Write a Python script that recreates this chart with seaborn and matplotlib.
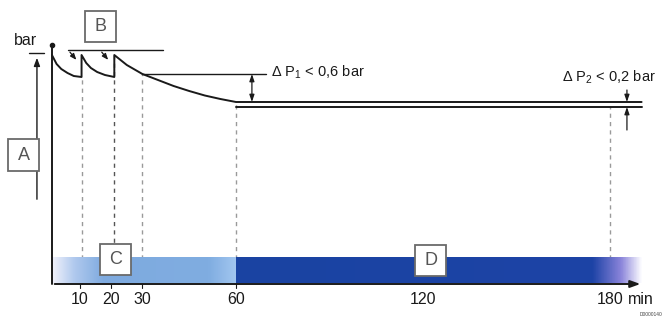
import matplotlib.pyplot as plt
import matplotlib.colors as mcolors
import numpy as np
import seaborn as sns

# Druckverlauf (Zeit in min, Druck in Zeichnungseinheiten)
zeit = [1, 2.5, 4, 6, 8, 10.5, 10.5, 12, 13.5, 15.5, 18, 21,
        21, 25, 30, 35, 40, 45, 50, 55, 60, 190]
druck = [22.9, 22.0, 21.5, 21.1, 20.8, 20.7, 22.9, 22.1, 21.6, 21.2, 20.9, 20.7,
         22.9, 21.9, 21.0, 20.4, 19.8, 19.3, 18.85, 18.5, 18.2, 18.2]
druck_unten = 17.7          # zweite Linie der Doppellinie
druck_ref1 = 21.0           # Bezugslinie fuer Delta P1

# Hilfslinien (gestrichelt) und ihre Startwerte
marken_t = [10.5, 21, 30, 60, 180]
marken_p = [20.7, 22.9, 21.0, 18.2, 17.7]

tick_pos = [10, 20, 30, 60, 120, 180]
tick_txt = ['10', '20', '30', '60', '120', '180']

boxen = {'A': (-13.1, 11.3), 'B': (11.6, 24.2), 'C': (16.4, 0.9), 'D': (117.4, 0.8)}

sns.set_theme(style='white')
plt.rcParams['font.family'] = ['Liberation Sans', 'DejaVu Sans']
plt.rcParams['mathtext.fontset'] = 'custom'
plt.rcParams['mathtext.rm'] = 'Liberation Sans'
plt.rcParams['mathtext.it'] = 'Liberation Sans'

fig = plt.figure(figsize=(6.65, 3.22), dpi=100)
ax = fig.add_axes([0, 0, 1, 1])
ax.set_xlim(-15.64, 197.5)
ax.set_ylim(-3.8, 28.4)
ax.axis('off')

schwarz = '#1a1a1a'

# Farbbalken (C hell, D dunkel)
hell = mcolors.LinearSegmentedColormap.from_list('hell', [
    (0.0, '#f2f2fb'), (0.12, '#b0c9ee'), (0.28, '#7eaadf'),
    (0.85, '#80ade1'), (1.0, '#a3c7f0')])
dunkel = mcolors.LinearSegmentedColormap.from_list('dunkel', [
    (0.0, '#1a44a2'), (0.88, '#1d43a6'), (0.95, '#8a84da'), (1.0, '#fbfbff')])
verlauf = np.linspace(0, 1, 256).reshape(1, -1)
ax.imshow(verlauf, cmap=hell, extent=[1, 60, 0.05, 2.6], aspect='auto', zorder=2)
ax.imshow(verlauf, cmap=dunkel, extent=[60, 190, 0.05, 2.6], aspect='auto', zorder=2)

# gestrichelte Hilfslinien
for t, p in zip(marken_t, marken_p):
    farbe = '#555555' if t == 21 else '#9a9a9a'
    ax.vlines(t, 0, p, colors=farbe, linestyles=(0, (3, 3)), lw=1, zorder=1)

# Druckkurve
sns.lineplot(x=zeit, y=druck, sort=False, estimator=None, color=schwarz,
             lw=1.4, ax=ax, zorder=4)
ax.plot([60, 190], [druck_unten] * 2, color=schwarz, lw=1.4, zorder=4)

# Achsen
ax.annotate('', xy=(190.5, 0), xytext=(1, 0),
            arrowprops=dict(arrowstyle='-|>,head_length=0.5,head_width=0.18',
                            color=schwarz, lw=1.4), zorder=5)
ax.plot([1, 1], [0, 23.9], color=schwarz, lw=1.4, zorder=5)
ax.plot(1, 23.9, marker='o', ms=3, color=schwarz, zorder=5)
for t in tick_pos[:4]:
    ax.plot([t, t], [0, -0.4], color=schwarz, lw=0.8, zorder=5)
for t, s in zip(tick_pos, tick_txt):
    ax.text(t, -1.5, s, ha='center', va='center', fontsize=11.5, color=schwarz)
ax.text(185.6, -1.5, 'min', ha='left', va='center', fontsize=11.5, color=schwarz)

# linker Pfeil mit "bar"
ax.annotate('', xy=(-3.8, 22.9), xytext=(-3.8, 8.2),
            arrowprops=dict(arrowstyle='-|>,head_length=0.4,head_width=0.15',
                            color=schwarz, lw=1.0), zorder=3)
ax.plot([-6.2, -1.4], [23.1, 23.1], color=schwarz, lw=1.0)
ax.text(-7.6, 24.3, 'bar', ha='center', va='center', fontsize=11.5, color=schwarz)

# B: Nachpumpen
ax.plot([6.2, 36.6], [23.4, 23.4], color=schwarz, lw=1.0)
for t0 in [6.2, 16.4]:
    ax.annotate('', xy=(t0 + 3.2, 22.2), xytext=(t0, 23.4),
                arrowprops=dict(arrowstyle='-|>,head_length=0.3,head_width=0.12',
                                color=schwarz, lw=0.9))

# Delta P1
ax.plot([30, 69.5], [druck_ref1] * 2, color=schwarz, lw=1.0)
ax.annotate('', xy=(65.1, 18.2), xytext=(65.1, druck_ref1),
            arrowprops=dict(arrowstyle='<|-|>,head_length=0.35,head_width=0.12',
                            color=schwarz, lw=0.9, shrinkA=0, shrinkB=0))
ax.text(71.2, 21.2, 'Δ P$_{1}$ < 0,6 bar', ha='left', va='center', fontsize=10.5,
        color=schwarz)

# Delta P2
ax.annotate('', xy=(185.3, 18.2), xytext=(185.3, 19.4),
            arrowprops=dict(arrowstyle='-|>,head_length=0.35,head_width=0.12',
                            color=schwarz, lw=0.9, shrinkA=0, shrinkB=0))
ax.annotate('', xy=(185.3, druck_unten), xytext=(185.3, 15.4),
            arrowprops=dict(arrowstyle='-|>,head_length=0.35,head_width=0.12',
                            color=schwarz, lw=0.9, shrinkA=0, shrinkB=0))
ax.text(194.6, 20.7, 'Δ P$_{2}$ < 0,2 bar', ha='right', va='center', fontsize=10.5,
        color=schwarz)

# Kennbuchstaben in Kaestchen
for name, (x0, y0) in boxen.items():
    ax.add_patch(plt.Rectangle((x0, y0), 10.0, 3.15, facecolor='white',
                               edgecolor='#6a6a6a', lw=1.3, zorder=6))
    ax.text(x0 + 5.0, y0 + 1.55, name, ha='center', va='center', fontsize=13,
            color='#555555', zorder=7)

ax.text(196.6, -3.0, 'D0000140', ha='right', va='center', fontsize=3.5, color='#444444')

fig.savefig('out.png', dpi=100)
